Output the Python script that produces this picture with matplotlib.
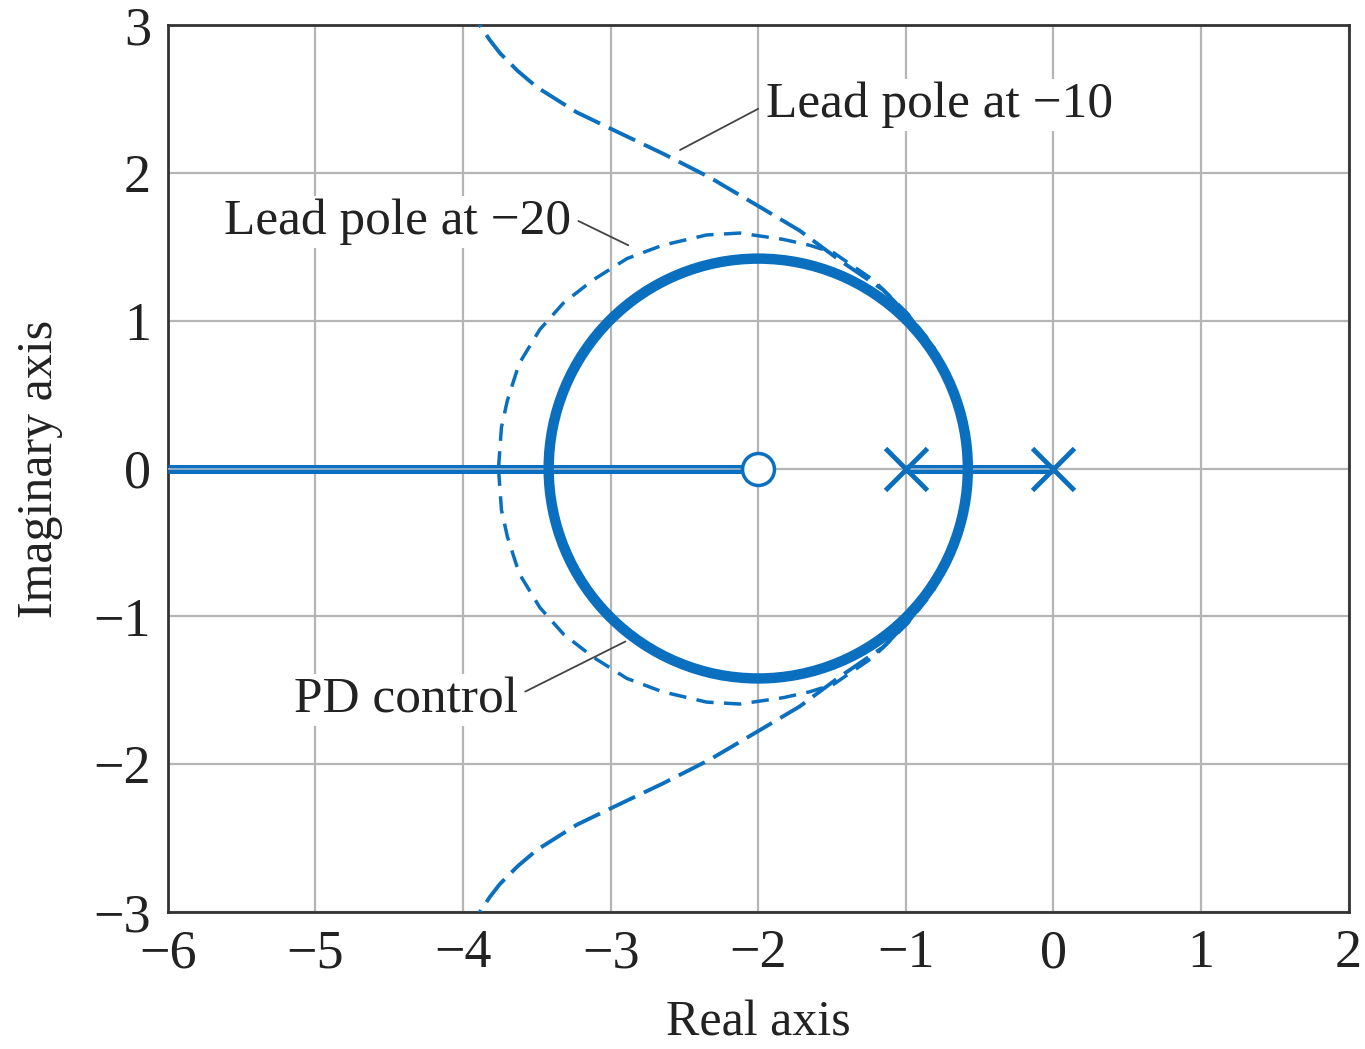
import matplotlib.pyplot as plt
from matplotlib.patches import Circle

plt.rcParams['font.family'] = ['Liberation Serif', 'DejaVu Serif']

blue = '#0a6fbf'

# PD control locus: circle plus real-axis segments
pd_center = (-2.0, 0.0)
pd_radius = 1.42
real_axis_segments = [(-6.0, -2.0), (-1.0, 0.0)]

open_loop_poles = [-1.0, 0.0]
open_loop_zeros = [-2.0]

# upper branches of the lead-compensated loci
lead10_x = [-3.99, -3.886, -3.82, -3.75, -3.63, -3.50, -3.23, -2.96, -2.645, -2.33, -1.99,
            -1.72, -1.45, -1.156, -0.97, -0.82, -0.70, -0.62, -0.58]
lead10_y = [3.15, 3.00, 2.90, 2.81, 2.69, 2.58, 2.41, 2.28, 2.13, 1.97, 1.77,
            1.61, 1.41, 1.21, 1.02, 0.82, 0.58, 0.30, 0.00]

lead20_x = [-3.76, -3.75, -3.74, -3.70, -3.62, -3.48, -3.32, -3.12, -2.89, -2.65, -2.35,
            -2.125, -1.83, -1.65, -1.49, -1.22, -0.99, -0.82, -0.70, -0.62, -0.58]
lead20_y = [0.00, 0.14, 0.28, 0.46, 0.71, 0.94, 1.12, 1.275, 1.42, 1.51, 1.58,
            1.593, 1.55, 1.51, 1.46, 1.275, 1.05, 0.84, 0.58, 0.30, 0.00]

xticks = [-6, -5, -4, -3, -2, -1, 0, 1, 2]
yticks = [-3, -2, -1, 0, 1, 2, 3]

fig = plt.figure(figsize=(13.65, 10.49), dpi=100)
ax = fig.add_axes([0.123, 0.1306, 0.865, 0.8455])

# dashed lead-pole loci (upper and mirrored lower branch)
for ys in (lead10_y, [-v for v in lead10_y]):
    ax.plot(lead10_x, ys, color=blue, lw=2.8, dashes=(7.5, 2.5), zorder=3)
for ys in (lead20_y, [-v for v in lead20_y]):
    ax.plot(lead20_x, ys, color=blue, lw=2.5, dashes=(5, 3), zorder=3)

# PD control locus
for x0, x1 in real_axis_segments:
    ax.plot([x0, x1], [0, 0], color=blue, lw=6.5, solid_capstyle='butt', zorder=4)
    ax.plot([x0, x1], [0, 0], color='#9fb8cf', lw=1.2, zorder=4.5)
ax.add_patch(Circle(pd_center, pd_radius, fill=False, ec=blue, lw=7.5, zorder=5))

ax.plot(open_loop_poles, [0] * len(open_loop_poles), ls='none', marker='x',
        ms=30, mew=3.5, color=blue, zorder=6)
ax.plot(open_loop_zeros, [0] * len(open_loop_zeros), ls='none', marker='o',
        ms=23, mew=2.5, mfc='white', mec=blue, zorder=6)

# labels with leader lines
ax.annotate('Lead pole at \u221210', xy=(-2.53, 2.155), xytext=(-1.95, 2.46),
            ha='left', va='center', fontsize=37, color='#222222',
            bbox=dict(fc='white', ec='none', pad=2),
            arrowprops=dict(arrowstyle='-', color='#444444', lw=1.3,
                            shrinkA=4, shrinkB=0, relpos=(0, 0.5)), zorder=7)
ax.annotate('Lead pole at \u221220', xy=(-2.88, 1.51), xytext=(-3.27, 1.668),
            ha='right', va='center', fontsize=37, color='#222222',
            bbox=dict(fc='white', ec='none', pad=2),
            arrowprops=dict(arrowstyle='-', color='#444444', lw=1.3,
                            shrinkA=4, shrinkB=0, relpos=(1, 0.6)), zorder=7)
ax.annotate('PD control', xy=(-2.90, -1.17), xytext=(-3.63, -1.566),
            ha='right', va='center', fontsize=37, color='#222222',
            bbox=dict(fc='white', ec='none', pad=2),
            arrowprops=dict(arrowstyle='-', color='#444444', lw=1.3,
                            shrinkA=4, shrinkB=0, relpos=(1, 0.6)), zorder=7)

ax.set_xlim(-6, 2)
ax.set_ylim(-3, 3)
ax.set_xticks(xticks)
ax.set_yticks(yticks)
ax.set_xticklabels([f'{v}'.replace('-', '\u2212') for v in xticks])
ax.set_yticklabels([f'{v}'.replace('-', '\u2212') for v in yticks])
ax.tick_params(length=0, labelsize=39, colors='#222222', pad=12)
ax.grid(True, color='#b5b5b5', lw=1.6)
ax.set_axisbelow(True)
for sp in ax.spines.values():
    sp.set_linewidth(2)
    sp.set_color('#333333')

ax.set_xlabel('Real axis', fontsize=36, color='#222222', labelpad=15)
ax.set_ylabel('Imaginary axis', fontsize=36, color='#222222', labelpad=22)

fig.savefig('out.png', dpi=100)
